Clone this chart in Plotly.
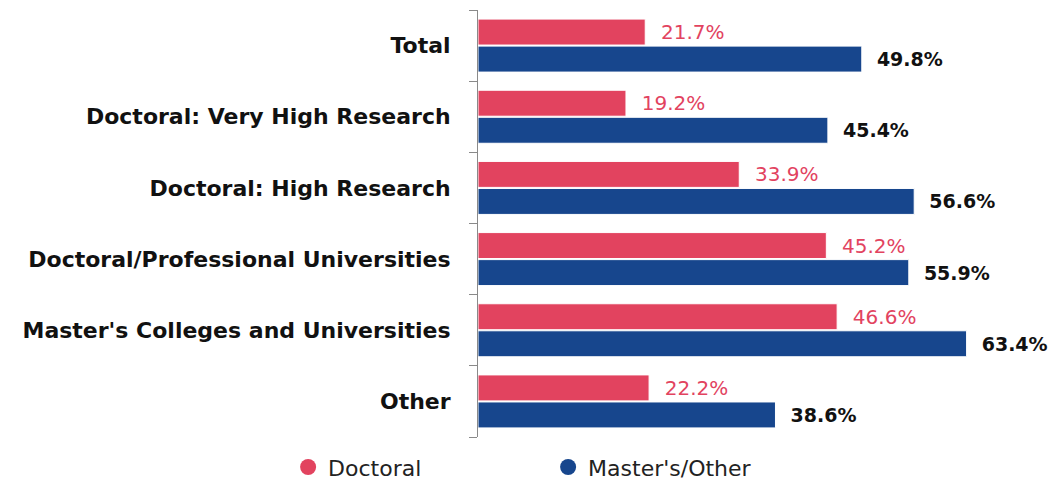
import plotly.graph_objects as go

categories = ["Total", "Doctoral: Very High Research", "Doctoral: High Research",
              "Doctoral/Professional Universities", "Master's Colleges and Universities", "Other"]
doctoral = [21.7, 19.2, 33.9, 45.2, 46.6, 22.2]
masters = [49.8, 45.4, 56.6, 55.9, 63.4, 38.6]
series_names = ["Doctoral", "Master's/Other"]

PINK = "#E2435F"
NAVY = "#17468D"
FONT = "DejaVu Sans"
PAD = "\u00a0\u00a0"

fig = go.Figure()
fig.add_trace(go.Bar(
    y=categories, x=doctoral, orientation="h", name=series_names[0],
    marker=dict(color=PINK, line=dict(color="white", width=1)),
    text=[f"{PAD}{v:.1f}%" for v in doctoral], textposition="outside",
    textfont=dict(color=PINK, size=20, family=FONT),
    cliponaxis=False, showlegend=False,
))
fig.add_trace(go.Bar(
    y=categories, x=masters, orientation="h", name=series_names[1],
    marker=dict(color=NAVY, line=dict(color="white", width=1)),
    text=[f"{PAD}<b>{v:.1f}%</b>" for v in masters], textposition="outside",
    textfont=dict(color="#111111", size=19, family=FONT),
    cliponaxis=False, showlegend=False,
))
for name, col in zip(series_names, [PINK, NAVY]):
    fig.add_trace(go.Scatter(x=[None], y=[None], mode="markers", name=name,
                             marker=dict(color=col, size=18, symbol="circle")))

fig.update_layout(
    width=1061, height=489,
    margin=dict(l=470, r=13, t=2, b=60, autoexpand=False),
    paper_bgcolor="white", plot_bgcolor="white",
    barmode="group", bargap=0.24, bargroupgap=0.04,
    font=dict(family=FONT, color="#111111"),
    showlegend=True,
    legend=dict(orientation="h", xref="container", x=0.264, xanchor="left",
                yref="container", y=0.061, yanchor="middle",
                entrywidth=215, font=dict(size=22, color="#222222"),
                itemsizing="trace"),
    xaxis=dict(range=[0, 75], visible=False, showgrid=False, automargin=False),
    yaxis=dict(autorange="reversed", showline=True, linecolor="#8a8a8a", linewidth=1,
               ticks="outside", tickson="boundaries", ticklen=8, tickcolor="#8a8a8a",
               tickfont=dict(size=22, family=FONT, color="#111111"),
               ticklabelstandoff=22, showgrid=False, automargin=False),
)
fig.update_yaxes(tickvals=categories, ticktext=[f"<b>{c}</b>" for c in categories])

fig.write_html("out.html")
